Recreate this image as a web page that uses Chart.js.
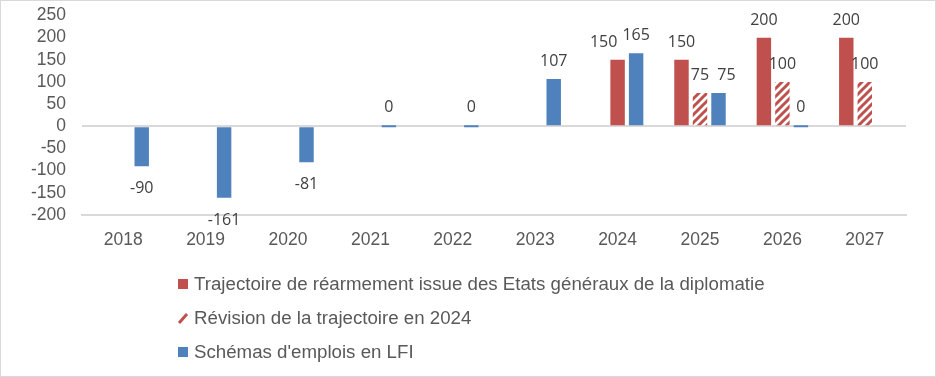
<!DOCTYPE html>
<html>
<head>
<meta charset="utf-8">
<script src="https://cdn.jsdelivr.net/npm/chart.js@4"></script>
<style>
  html, body { margin: 0; padding: 0; background: #fff; }
  #wrap { width: 936px; height: 377px; }
</style>
</head>
<body>
<div id="wrap"><canvas id="barChart" width="936" height="377"></canvas></div>
<script>
const annees = ["2018", "2019", "2020", "2021", "2022", "2023", "2024", "2025", "2026", "2027"];
const trajectoire = [null, null, null, null, null, null, null, 150, 200, 200];
const revision = [null, null, null, null, null, null, 150, 75, 100, 100];
const schemas = [-90, -161, -81, 0, 0, 107, 165, 75, 0, null];
const nomsSeries = [
    "Trajectoire de réarmement issue des Etats généraux de la diplomatie",
    "Révision de la trajectoire en 2024",
    "Schémas d'emplois en LFI"
];

const rouge = '#C0504D';
const bleu = '#4F81BD';

// motif hachuré pour la révision
function hachures() {
    const c = document.createElement('canvas');
    c.width = 8; c.height = 8;
    const g = c.getContext('2d');
    g.fillStyle = '#fff';
    g.fillRect(0, 0, 8, 8);
    g.strokeStyle = rouge;
    g.lineWidth = 3;
    g.beginPath();
    g.moveTo(-4, 4); g.lineTo(4, -4);
    g.moveTo(0, 8); g.lineTo(8, 0);
    g.moveTo(4, 12); g.lineTo(12, 4);
    g.stroke();
    return g.createPattern(c, 'repeat');
}
const motif = hachures();
// 2024 : barre pleine
const couleursRevision = annees.map(a => a === "2024" ? rouge : motif);

// petits décalages des étiquettes pour éviter les chevauchements
const decalages = { "1-6": -14, "2-7": 8 };

const etiquettes = {
    id: 'etiquettes',
    afterDatasetsDraw(chart) {
        const ctx = chart.ctx;
        ctx.save();
        ctx.font = '16px "Open Sans"';
        ctx.fillStyle = '#404040';
        ctx.textAlign = 'center';
        chart.data.datasets.forEach((ds, i) => {
            const meta = chart.getDatasetMeta(i);
            meta.data.forEach((bar, j) => {
                const v = ds.data[j];
                if (v === null || v === undefined) return;
                const x = bar.x + (decalages[i + '-' + j] || 0);
                if (v >= 0) {
                    ctx.fillText(String(v), x, Math.min(bar.y, bar.base) - 13);
                } else {
                    ctx.fillText(String(v), x, Math.max(bar.y, bar.base) + 27);
                }
            });
        });
        ctx.restore();
    }
};

const legende = {
    id: 'legende',
    afterDraw(chart) {
        const ctx = chart.ctx;
        ctx.save();
        ctx.font = '18.7px "Liberation Sans", Arial';
        ctx.textBaseline = 'middle';
        const lignes = [284, 318, 352];
        nomsSeries.forEach((nom, i) => {
            const y = lignes[i];
            if (i === 1) {
                ctx.strokeStyle = rouge;
                ctx.lineWidth = 3;
                ctx.beginPath();
                ctx.moveTo(179, y + 5);
                ctx.lineTo(187, y - 4);
                ctx.stroke();
            } else {
                ctx.fillStyle = i === 0 ? rouge : bleu;
                ctx.fillRect(178, y - 5, 10, 10);
            }
            ctx.fillStyle = '#595959';
            ctx.fillText(nom, 194, y + 1);
        });
        ctx.strokeStyle = '#d9d9d9';
        ctx.lineWidth = 1;
        ctx.strokeRect(0.5, 0.5, chart.width - 1, chart.height - 1);
        ctx.restore();
    }
};

const policeAxe = { family: '"Liberation Sans", Arial', size: 17.5 };

const barChart = new Chart(document.getElementById('barChart'), {
    type: 'bar',
    data: {
        labels: annees,
        datasets: [{
            label: nomsSeries[0],
            data: trajectoire,
            backgroundColor: rouge
        }, {
            label: nomsSeries[1],
            data: revision,
            backgroundColor: couleursRevision
        }, {
            label: nomsSeries[2],
            data: schemas,
            backgroundColor: bleu,
            minBarLength: 2
        }]
    },
    plugins: [etiquettes, legende],
    options: {
        responsive: false,
        animation: false,
        devicePixelRatio: 1,
        categoryPercentage: 0.674,
        barPercentage: 0.78,
        layout: { padding: { top: 15.5, right: 30, left: 0, bottom: 0 } },
        plugins: {
            legend: { display: false },
            tooltip: { enabled: false }
        },
        scales: {
            x: {
                grid: { display: false, drawTicks: false },
                border: { color: '#d9d9d9', width: 2 },
                ticks: {
                    color: '#595959',
                    font: policeAxe,
                    padding: 15,
                    maxRotation: 0
                },
                afterFit(scale) { scale.height = 162; }
            },
            y: {
                min: -200,
                max: 250,
                grid: {
                    drawTicks: false,
                    color: ctx => ctx.tick && ctx.tick.value === 0 ? '#d9d9d9' : 'transparent',
                    lineWidth: ctx => ctx.tick && ctx.tick.value === 0 ? 2 : 0
                },
                border: { display: false },
                ticks: {
                    stepSize: 50,
                    autoSkip: false,
                    color: '#595959',
                    font: policeAxe,
                    padding: 16
                },
                afterFit(scale) {
                    scale.width = 82;
                    scale.paddingTop = 0;
                    scale.paddingBottom = 0;
                }
            }
        }
    }
});
</script>
</body>
</html>
